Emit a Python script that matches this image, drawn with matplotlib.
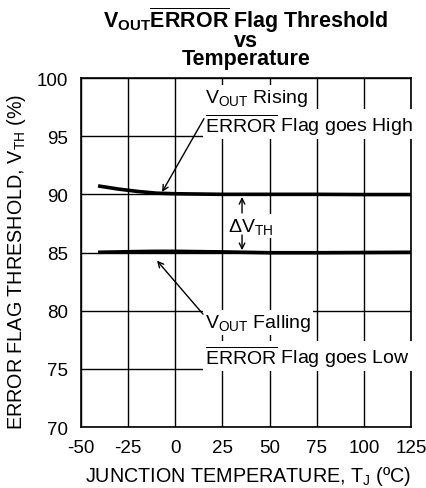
import numpy as np
import matplotlib
matplotlib.use('Agg')
import matplotlib.pyplot as plt

plt.rcParams['font.family'] = ['Liberation Sans', 'DejaVu Sans']
plt.rcParams['mathtext.fontset'] = 'custom'
plt.rcParams['mathtext.rm'] = 'Liberation Sans'
plt.rcParams['mathtext.it'] = 'Liberation Sans'
plt.rcParams['mathtext.bf'] = 'Liberation Sans:bold'
plt.rcParams['axes.unicode_minus'] = False

# data
temp = [-40, -30, -20, -10, 0, 25, 50, 75, 100, 125]
rising = [90.7, 90.45, 90.25, 90.1, 90.05, 90.0, 90.0, 90.0, 89.98, 89.98]
falling = [85.02, 85.05, 85.08, 85.1, 85.1, 85.05, 84.98, 84.98, 85.0, 85.02]

xticks = [-50, -25, 0, 25, 50, 75, 100, 125]
yticks = [70, 75, 80, 85, 90, 95, 100]

fig = plt.figure(figsize=(4.27, 4.89), dpi=100)
ax = fig.add_axes([81/427, 1-428/489, 330/427, 349/489])

ax.plot(temp, rising, color='black', lw=2.6, zorder=3)
ax.plot(temp, falling, color='black', lw=2.6, zorder=3)

ax.set_xlim(-50, 125)
ax.set_ylim(70, 100)
ax.set_xticks(xticks)
ax.set_xticklabels([str(t) for t in xticks])
ax.set_yticks(yticks)
ax.tick_params(length=0, labelsize=13.5)
ax.tick_params(axis='x', pad=9)
ax.tick_params(axis='y', pad=9)
ax.grid(True, color='black', lw=1.0)
for s in ax.spines.values():
    s.set_linewidth(1.2)

fs = 14
bb = dict(facecolor='white', edgecolor='none', pad=1.5)
ax.text(15.8, 97.94, r'$\mathregular{V_{OUT}}$ Rising', fontsize=fs, va='baseline', bbox=bb, zorder=4)
ax.text(15.8, 95.44, r'$\mathregular{\overline{ERROR}}$ Flag goes High', fontsize=fs, va='baseline', bbox=bb, zorder=4)
ax.text(15.8, 78.6, r'$\mathregular{V_{OUT}}$ Falling', fontsize=fs, va='baseline', bbox=bb, zorder=4)
ax.text(15.8, 75.5, r'$\mathregular{\overline{ERROR}}$ Flag goes Low', fontsize=fs, va='baseline', bbox=bb, zorder=4)
ax.text(27.9, 86.85, r'$\mathregular{\Delta V_{TH}}$', fontsize=fs, ha='left', va='baseline', bbox=bb, zorder=4)

ap = dict(arrowstyle='->', color='black', lw=1.0, shrinkA=0, shrinkB=0)
ax.annotate('', xy=(-7, 90.2), xytext=(15.2, 96.5), arrowprops=ap, zorder=5)
ax.annotate('', xy=(-9.7, 84.3), xytext=(14.7, 79.7), arrowprops=ap, zorder=5)
ax.annotate('', xy=(35.4, 89.77), xytext=(35.4, 88.4), arrowprops=ap, zorder=5)
ax.annotate('', xy=(35.4, 85.2), xytext=(35.4, 86.5), arrowprops=ap, zorder=5)

ax.set_xlabel(r'JUNCTION TEMPERATURE, T$\mathregular{_J}$ (ºC)', fontsize=14.2)
ax.xaxis.set_label_coords(0.506, -0.106)
ax.set_ylabel(r'ERROR FLAG THRESHOLD, V$\mathregular{_{TH}}$ (%)', fontsize=14.2)
ax.yaxis.set_label_coords(-0.16, 0.476)
ax.set_title(r'$\mathbf{V_{OUT}\overline{ERROR}}$ Flag Threshold' + '\nvs\nTemperature',
             fontsize=15.5, fontweight='bold', linespacing=0.8, pad=10)

fig.savefig('out.png', dpi=100)
